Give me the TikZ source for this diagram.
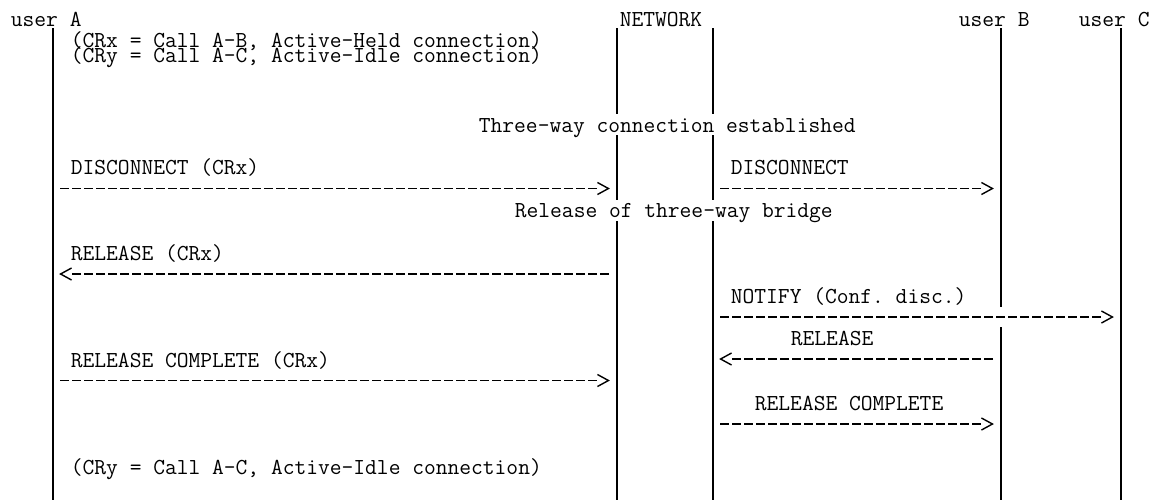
\documentclass[tikz,border=0pt]{standalone}
\usepackage{fontspec}
\setmonofont{Latin Modern Mono}
\usetikzlibrary{arrows.meta}
\newcommand\tightlines{\lineskiplimit=-100pt\relax\lineskip=0pt\relax}
\begin{document}
\begin{tikzpicture}[x=0.5pt, y=-0.5pt,
  lbl/.style={anchor=base west, inner sep=0pt, font=\ttfamily\fontsize{11.43pt}{13pt}\selectfont},
  twoline/.style={anchor=north west, inner sep=0pt, align=left,
    font=\ttfamily\fontsize{11.43pt}{7.5pt}\selectfont\tightlines},
  life/.style={line width=1pt},
  gap/.style={fill=white},
  msg/.style={line width=0.7pt, dash pattern=on 4.5pt off 1.5pt,
    shorten <=3.75pt, shorten >=9.75pt,
    postaction={draw, dash pattern=on 0pt off 3000pt, shorten >=3.3pt,
      -{Straight Barb[length=5.5pt,width=6pt]}}}
]
\useasboundingbox (0,0) rectangle (1157,500);

% actors
\node[lbl] (uA) at (10.5,26) {user A};
\node[lbl, anchor=base] (net) at (661,26) {NETWORK};
\node[lbl] (uB) at (958.5,26) {user B};
\node[lbl] (uC) at (1078.5,26) {user C};

% lifelines
\coordinate (Atop) at (52.5,28);   \coordinate (Abot) at (52.5,500);
\coordinate (N1top) at (616.5,28); \coordinate (N1bot) at (616.5,500);
\coordinate (N2top) at (712.5,28); \coordinate (N2bot) at (712.5,500);
\coordinate (Btop) at (1000.5,28); \coordinate (Bbot) at (1000.5,500);
\coordinate (Ctop) at (1120.5,28); \coordinate (Cbot) at (1120.5,500);
\draw[life] (Atop) -- (Abot);
\draw[life] (N1top) -- (N1bot);
\draw[life] (N2top) -- (N2bot);
\draw[life] (Btop) -- (Bbot);
\draw[life] (Ctop) -- (Cbot);

% gaps where text or dashes replace the lifelines
\fill[gap] (610,113.5) rectangle (623,135);
\fill[gap] (706,113.5) rectangle (719,135);
\fill[gap] (610,199.5) rectangle (623,220.5);
\fill[gap] (706,199.5) rectangle (719,220.5);
\fill[gap] (994,307) rectangle (1007,327);

% message end points
\coordinate (m1a) at (52.5,188.5);  \coordinate (m1n) at (616.5,188.5);
\coordinate (m1m) at (712.5,188.5); \coordinate (m1b) at (1000.5,188.5);
\coordinate (m2n) at (616.5,274);   \coordinate (m2a) at (52.5,274);
\coordinate (m3m) at (712.5,317);   \coordinate (m3c) at (1120.5,317);
\coordinate (m4b) at (1000.5,359);  \coordinate (m4m) at (712.5,359);
\coordinate (m5a) at (52.5,380.5);  \coordinate (m5n) at (616.5,380.5);
\coordinate (m6m) at (712.5,424);   \coordinate (m6b) at (1000.5,424);

\draw[msg] (m1a) -- (m1n);
\draw[msg] (m1m) -- (m1b);
\draw[msg] (m2n) -- (m2a);
\draw[msg] (m3m) -- (m3c);
\draw[msg] (m4b) -- (m4m);
\draw[msg] (m5a) -- (m5n);
\draw[msg] (m6m) -- (m6b);

% texts
\node[twoline] (crxy) at (70.5,31) {(CRx = Call A-B, Active-Held connection)\\(CRy = Call A-C, Active-Idle connection)};
\node[lbl] (est) at (478.5,132.2) {Three-way connection established};
\node[lbl] (t1) at (70.5,174.9) {DISCONNECT (CRx)};
\node[lbl] (t2) at (730.5,174.9) {DISCONNECT};
\node[lbl] (rel) at (514.5,217.7) {Release of three-way bridge};
\node[lbl] (t3) at (70.5,260.4) {RELEASE (CRx)};
\node[lbl] (t4) at (730.5,303.2) {NOTIFY (Conf. disc.)};
\node[lbl] (t5) at (790.5,345.9) {RELEASE};
\node[lbl] (t6) at (70.5,367.3) {RELEASE COMPLETE (CRx)};
\node[lbl] (t7) at (754.5,410.1) {RELEASE COMPLETE};
\node[lbl] (cry2) at (70.5,474) {(CRy = Call A-C, Active-Idle connection)};
\end{tikzpicture}
\end{document}
